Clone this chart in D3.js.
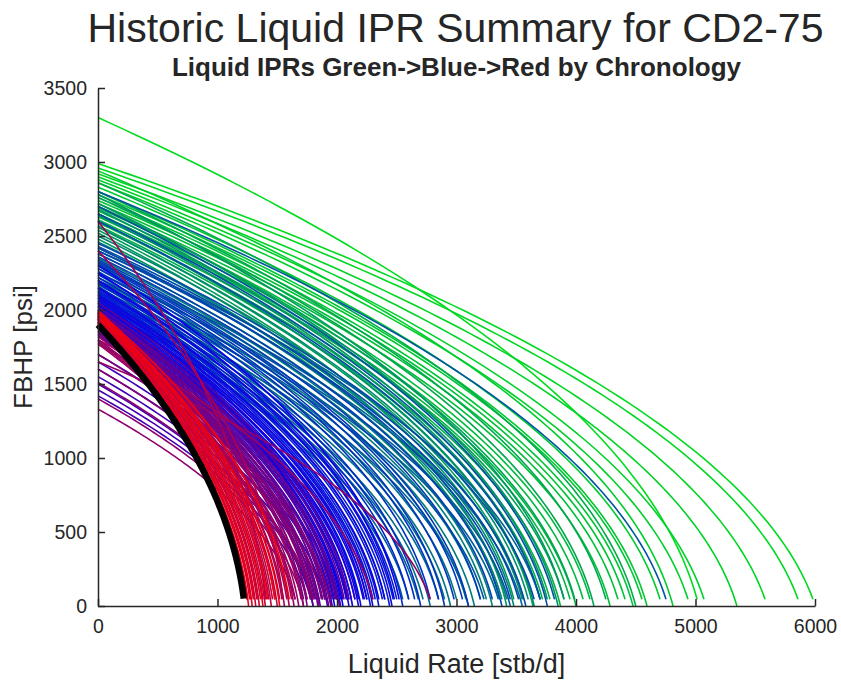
<!DOCTYPE html>
<html>
<head>
<meta charset="utf-8">
<script src="https://cdn.jsdelivr.net/npm/d3@7"></script>
<style>
  html, body { margin: 0; padding: 0; background: #ffffff; }
  svg { display: block; }
  text { font-family: "Liberation Sans", Arial, Helvetica, sans-serif; fill: #262626; }
</style>
</head>
<body>
<svg id="chart" width="841" height="680"></svg>
<script>
// ---------------- DATA ----------------
const titleText = "Historic Liquid IPR Summary for CD2-75";
const subtitleText = "Liquid IPRs Green->Blue->Red by Chronology";
const xLabel = "Liquid Rate [stb/d]";
const yLabel = "FBHP [psi]";
const xTicks = [0, 1000, 2000, 3000, 4000, 5000, 6000];
const yTicks = [0, 500, 1000, 1500, 2000, 2500, 3000, 3500];

// chronology (0 = oldest / green, 0.5 = blue, 1 = newest / red)
const chronology = [
  0.000,0.005,0.010,0.015,0.020,0.025,0.030,0.035,0.040,0.045,0.050,0.055,0.060,0.065,0.070,0.075,
  0.080,0.085,0.090,0.095,0.100,0.105,0.110,0.115,0.120,0.125,0.130,0.135,0.140,0.145,0.150,0.155,
  0.160,0.165,0.170,0.175,0.180,0.185,0.190,0.195,0.200,0.205,0.210,0.215,0.220,0.225,0.230,0.235,
  0.240,0.245,0.250,0.255,0.260,0.265,0.270,0.275,0.280,0.285,0.290,0.295,0.300,0.305,
  0.310,0.315,0.320,0.325,0.330,0.335,0.340,0.345,0.350,0.355,0.360,0.365,0.370,0.375,0.380,0.385,
  0.390,0.395,0.400,0.405,0.410,0.415,0.420,0.425,0.430,0.435,0.440,0.445,0.450,0.455,0.460,0.465,
  0.470,0.475,0.480,0.485,0.490,0.495,0.500,0.505,0.510,0.515,0.520,0.525,
  0.530,0.535,0.540,0.545,0.550,0.555,0.560,0.565,0.570,0.575,0.580,0.585,0.590,0.595,0.600,0.605,
  0.610,0.615,0.620,0.625,0.630,0.635,0.640,0.645,0.650,0.655,0.660,0.665,0.670,0.675,0.680,0.685,
  0.690,0.695,0.700,0.705,0.710,0.715,0.720,0.725,0.730,0.735,0.740,0.745,
  0.750,0.755,0.760,0.765,0.770,0.775,0.780,0.785,0.790,0.795,0.800,0.805,0.810,0.815,0.820,0.825,
  0.830,0.835,0.840,0.845,0.850,0.855,0.860,0.865,0.870,0.875,0.880,0.885,0.890,0.895,0.900,0.905,
  0.910,0.915,0.920,0.925,0.930,0.935,0.940,0.945,0.950,0.955,0.960,0.965,0.970,0.975,0.980,0.985,
  0.990,0.995,1.000
];
// static reservoir pressure at zero rate [psi]
const reservoirPressure = [
  3300,2990,2960,2920,2900,2880,2860,2940,2830,2800,2780,2760,2740,2720,2700,2690,
  2670,2650,2630,2610,2590,2570,2860,2800,2760,2700,2650,2600,2560,2540,2520,2480,
  2780,2720,2680,2640,2600,2560,2500,2460,2420,2380,2350,2320,2280,2250,2220,2200,
  2170,2150,2120,2100,2080,2060,2300,2400,2200,2120,2050,2030,2250,2180,
  2800,2700,2650,2600,2450,2430,2400,2420,2380,2360,2340,2330,2320,2310,2300,2280,
  2260,2240,2220,2200,2190,2180,2160,2150,2140,2130,2120,2110,2100,2090,2080,2070,
  2060,2050,2040,2030,2020,2010,2000,1990,1980,1970,2300,2250,
  2200,2150,2100,2080,2050,2030,2000,1990,1980,1970,1960,1950,1940,1930,1920,1910,
  1900,1700,1650,1600,1550,1500,1460,1420,1890,1880,1870,1860,1850,1840,1830,2050,
  2020,2000,1990,1980,1960,1950,1940,1930,1920,1910,1900,1890,
  1900,1880,1860,1840,1700,1600,1510,1400,1330,1820,1800,1650,1790,1780,1770,1800,
  1950,1940,2600,1930,2400,1920,1910,1950,1960,1970,1980,1990,2000,1990,1980,1970,
  1960,1950,1950,1940,1940,1930,1930,1920,1920,1910,1910,1900,1900,1900,1950,1960,
  1970,1980,1990
];
// rate at the last computed point [stb/d]
const endRate = [
  5013,5983,5858,5582,5347,5071,4937,4812,4703,4594,4552,4477,4410,4351,4285,4117,
  4059,4000,3950,3870,3782,3720,4500,4250,4150,3990,3900,3640,3560,3480,3420,3360,
  3900,3850,3760,3700,3650,3600,3550,3480,3420,3380,3300,3250,3200,3150,3080,3000,
  2950,2900,2850,2780,2720,2680,3550,3700,3350,3100,2600,2550,3450,3230,
  4753,3820,3760,3700,3650,3580,3520,3450,3380,3300,3200,3100,3050,2980,2900,2850,
  2780,2700,2650,2600,2550,2500,2470,2440,2400,2380,2350,2320,2300,2280,2250,2230,
  2200,2180,2150,2130,2100,2080,2050,2030,2000,1980,2520,2480,
  2460,2400,2350,2300,2250,2220,2180,2150,2120,2100,2080,2050,2030,2000,1980,1960,
  1940,2000,1950,1900,1850,1800,1780,1750,1920,1900,1880,1860,1840,1820,1800,2100,
  2060,2020,1990,1960,1930,1900,1870,1840,1810,1780,1750,1720,
  1900,1850,1800,1780,1950,1880,1800,1720,1650,1750,1720,2780,1700,1680,1650,2300,
  1640,1620,1400,1600,1550,1580,1560,1540,1520,1500,1480,1460,1450,1430,1410,1400,
  1380,1360,1350,1340,1330,1320,1310,1300,1290,1280,1270,1260,1250,1245,1380,1420,
  1480,1520,1600
];
// flowing pressure at the last computed point [psi]
const endPressure = [
  45,45,45,45,0,45,45,0,45,0,45,0,45,45,0,45,
  45,0,45,0,45,45,0,45,0,45,45,0,45,45,0,45,
  45,0,45,45,0,45,45,0,45,45,0,45,45,0,45,45,
  0,45,45,0,45,45,0,45,45,0,45,45,0,45,
  45,45,0,45,45,0,45,45,0,45,45,0,45,45,0,45,
  45,0,45,45,0,45,45,0,45,45,0,45,45,0,45,45,
  0,45,45,0,45,45,0,45,45,0,45,45,
  0,45,45,0,45,45,0,45,45,0,45,45,0,45,45,0,
  45,45,0,45,45,0,45,45,0,45,45,0,45,45,0,45,
  45,0,45,45,0,45,45,0,45,45,0,45,
  45,0,45,45,0,45,45,0,45,45,0,45,45,0,45,45,
  0,45,45,0,45,45,0,45,45,0,45,45,0,45,45,0,
  45,45,0,45,45,0,45,45,0,45,45,0,45,45,0,45,
  45,0,45
];
// current (thick black) IPR
const currentIPR = { reservoirPressure: 1900, endRate: 1220, endPressure: 50 };

// ---------------- LAYOUT ----------------
const svg = d3.select("#chart");
const W = 841, H = 680;
const m = { left: 98, right: 26, top: 88, bottom: 74 };
const x = d3.scaleLinear().domain([0, 6000]).range([m.left, W - m.right]);
const y = d3.scaleLinear().domain([0, 3500]).range([H - m.bottom, m.top]);

const colorScale = d3.scaleLinear()
  .domain([0, 0.5, 1])
  .range(["rgb(0,220,30)", "rgb(0,0,240)", "rgb(245,0,15)"])
  .interpolate(d3.interpolateRgb);

// Vogel-type IPR shape through (0, Pr) and (qEnd, pEnd)
function iprPoints(pr, qEnd, pEnd) {
  const xe = pEnd / pr;
  const qmax = qEnd / (1 - 0.2 * xe - 0.8 * xe * xe);
  const n = 80;
  const pts = [];
  for (let i = 0; i <= n; i++) {
    const p = pr - (pr - pEnd) * i / n;
    const r = p / pr;
    pts.push([qmax * (1 - 0.2 * r - 0.8 * r * r), p]);
  }
  return pts;
}

const line = d3.line().x(d => x(d[0])).y(d => y(d[1]));

const curves = chronology.map((t, i) => ({
  t, pts: iprPoints(reservoirPressure[i], endRate[i], endPressure[i])
}));

svg.append("g")
  .selectAll("path")
  .data(curves)
  .join("path")
  .attr("d", d => line(d.pts))
  .attr("fill", "none")
  .attr("stroke", d => colorScale(d.t))
  .attr("stroke-width", 1.6);

svg.append("path")
  .attr("d", line(iprPoints(currentIPR.reservoirPressure, currentIPR.endRate, currentIPR.endPressure)))
  .attr("fill", "none")
  .attr("stroke", "#000")
  .attr("stroke-width", 6.5);

// ---------------- AXES ----------------
const axisColor = "#262626";
const xAxis = svg.append("g")
  .attr("transform", `translate(0,${H - m.bottom})`)
  .call(d3.axisBottom(x).tickValues(xTicks).tickSize(-7).tickPadding(13).tickSizeOuter(0).tickFormat(d3.format("d")));
const yAxis = svg.append("g")
  .attr("transform", `translate(${m.left},0)`)
  .call(d3.axisLeft(y).tickValues(yTicks).tickSize(-7).tickPadding(11).tickSizeOuter(0).tickFormat(d3.format("d")));

[xAxis, yAxis].forEach(g => {
  g.select(".domain").attr("stroke", axisColor).attr("stroke-width", 1.5);
  g.selectAll(".tick line").attr("stroke", axisColor).attr("stroke-width", 1.5);
  g.selectAll(".tick text")
    .attr("fill", axisColor)
    .style("font-size", "19.5px")
    .style("font-family", '"Liberation Sans", Arial, sans-serif');
});

// ---------------- TEXT ----------------
svg.append("text")
  .attr("x", (m.left + W - m.right) / 2 - 1).attr("y", 42)
  .attr("text-anchor", "middle")
  .style("font-size", "41px")
  .text(titleText);

svg.append("text")
  .attr("x", (m.left + W - m.right) / 2).attr("y", 76)
  .attr("text-anchor", "middle")
  .style("font-size", "26px").style("font-weight", "bold")
  .text(subtitleText);

svg.append("text")
  .attr("x", (m.left + W - m.right) / 2).attr("y", 673)
  .attr("text-anchor", "middle")
  .style("font-size", "27px")
  .text(xLabel);

svg.append("text")
  .attr("transform", `translate(32,${(m.top + H - m.bottom) / 2}) rotate(-90)`)
  .attr("text-anchor", "middle")
  .style("font-size", "26px")
  .text(yLabel);
</script>
</body>
</html>
